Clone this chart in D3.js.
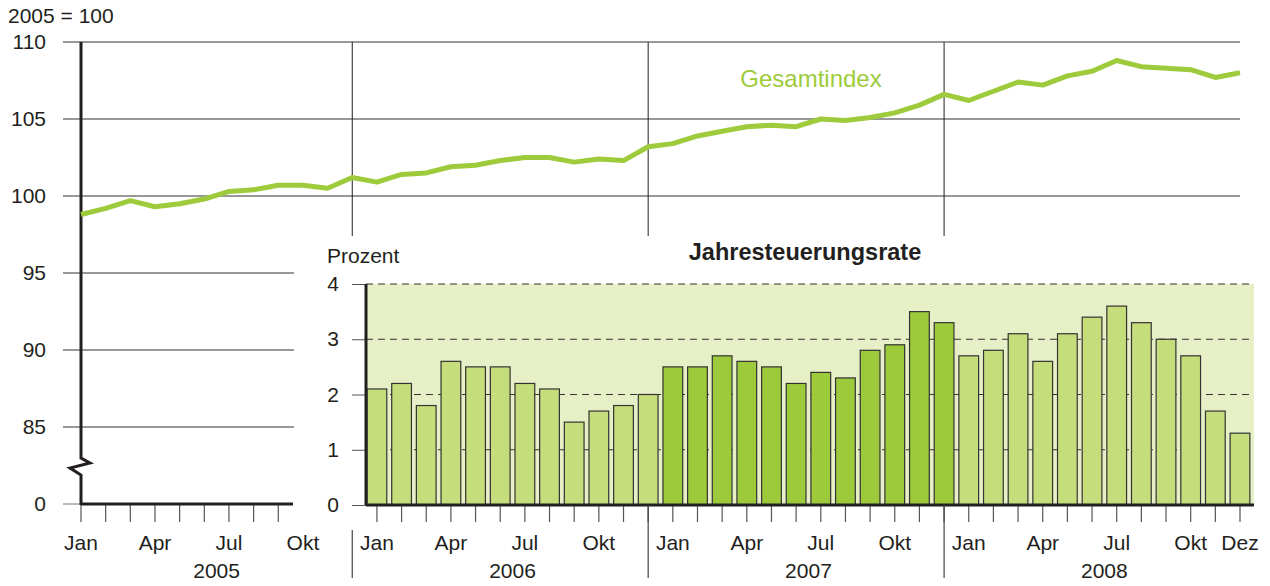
<!DOCTYPE html>
<html>
<head>
<meta charset="utf-8">
<script src="https://cdn.jsdelivr.net/npm/d3@7"></script>
<style>
  body { margin: 0; background: #fff; }
  svg { display: block; font-family: "Liberation Sans", Arial, sans-serif; }
</style>
</head>
<body>
<div id="chart-area"></div>
<script>
const years = ["2005", "2006", "2007", "2008"];
const monthNames = ["Jan", "Feb", "Mär", "Apr", "Mai", "Jun", "Jul", "Aug", "Sep", "Okt", "Nov", "Dez"];
const labelledMonths = ["Jan", "Apr", "Jul", "Okt"];
const indexTicks = [0, 85, 90, 95, 100, 105, 110];
const rateTicks = [0, 1, 2, 3, 4];

// Verbraucherpreisindex, 2005 = 100, Jan 2005 - Dez 2008
const gesamtindex = [
  98.8, 99.2, 99.7, 99.3, 99.5, 99.8, 100.3, 100.4, 100.7, 100.7, 100.5, 101.2,
  100.9, 101.4, 101.5, 101.9, 102.0, 102.3, 102.5, 102.5, 102.2, 102.4, 102.3, 103.2,
  103.4, 103.9, 104.2, 104.5, 104.6, 104.5, 105.0, 104.9, 105.1, 105.4, 105.9, 106.6,
  106.2, 106.8, 107.4, 107.2, 107.8, 108.1, 108.8, 108.4, 108.3, 108.2, 107.7, 108.0
];
// Jahresteuerungsrate in Prozent
const rate2006 = [2.1, 2.2, 1.8, 2.6, 2.5, 2.5, 2.2, 2.1, 1.5, 1.7, 1.8, 2.0];
const rate2007 = [2.5, 2.5, 2.7, 2.6, 2.5, 2.2, 2.4, 2.3, 2.8, 2.9, 3.5, 3.3];
const rate2008 = [2.7, 2.8, 3.1, 2.6, 3.1, 3.4, 3.6, 3.3, 3.0, 2.7, 1.7, 1.3];

const W = 1270, H = 586;
const ink = "#231f20";
const lineGreen = "#9dcb3b";
const lightBar = "#c6dd7c";
const darkBar = "#9dca3b";
const insetBg = "#e6efc6";
const fs = "21px";

const months = years.flatMap(y => monthNames.map(m => ({ year: y, month: m, key: y + "-" + m })));
const rates = [
  ...rate2006.map((v, i) => ({ key: "2006-" + monthNames[i], year: "2006", value: v })),
  ...rate2007.map((v, i) => ({ key: "2007-" + monthNames[i], year: "2007", value: v })),
  ...rate2008.map((v, i) => ({ key: "2008-" + monthNames[i], year: "2008", value: v }))
];

const svg = d3.select("#chart-area")
    .append("svg")
    .attr("width", W)
    .attr("height", H);

const x = d3.scalePoint()
    .domain(months.map(d => d.key))
    .range([81, 1240]);
const step = x.step();

// broken axis: 0 .. 85 squeezed
const y = d3.scaleLinear()
    .domain([0, 85, 110])
    .range([504, 427, 42]);

const yRate = d3.scaleLinear()
    .domain([0, 4])
    .range([505, 284]);

const gridLeft = 63, gridRight = x(months[months.length - 1].key);

// ---------- main chart ----------
svg.append("text")
    .attr("x", 8).attr("y", 23)
    .attr("font-size", fs).attr("fill", ink)
    .text("2005 = 100");

svg.append("g")
    .selectAll("line")
    .data(indexTicks.filter(t => t > 0))
    .enter().append("line")
    .attr("x1", gridLeft).attr("x2", gridRight)
    .attr("y1", d => y(d)).attr("y2", d => y(d))
    .attr("stroke", "#333").attr("stroke-width", 1);

svg.append("line")
    .attr("x1", gridLeft).attr("x2", x(months[0].key))
    .attr("y1", y(0)).attr("y2", y(0))
    .attr("stroke", "#777").attr("stroke-width", 1);

// year separators (at December)
const decKeys = years.slice(0, 3).map(yr => yr + "-Dez");
svg.append("g")
    .selectAll("line")
    .data(decKeys)
    .enter().append("line")
    .attr("x1", d => x(d)).attr("x2", d => x(d))
    .attr("y1", y(110)).attr("y2", 236)
    .attr("stroke", ink).attr("stroke-width", 1);

const yAxis = d3.axisLeft(y)
    .tickValues(indexTicks)
    .tickSize(0)
    .tickPadding(35);

svg.append("g")
    .attr("transform", `translate(${x(months[0].key)},0)`)
    .call(yAxis)
    .call(g => g.select(".domain").remove())
    .selectAll("text")
    .attr("font-size", fs)
    .attr("font-family", "Liberation Sans, Arial, sans-serif")
    .attr("fill", ink);

// 2005 x axis ticks + baseline
const x0 = x(months[0].key);
svg.append("g")
    .selectAll("line")
    .data(months.filter(d => d.year === "2005"))
    .enter().append("line")
    .attr("x1", d => x(d.key)).attr("x2", d => x(d.key))
    .attr("y1", y(0)).attr("y2", y(0) + 18)
    .attr("stroke", "#555").attr("stroke-width", 1.2);

svg.append("line")
    .attr("x1", x0).attr("x2", 293)
    .attr("y1", y(0)).attr("y2", y(0))
    .attr("stroke", ink).attr("stroke-width", 3);

// vertical axis with break
const b = y(85) + 31;
svg.append("path")
    .attr("d", `M${x0},${y(110)} V${b} L${x0 + 9},${b + 5} L${x0 - 11},${b + 10} L${x0},${b + 17} V${y(0) + 1}`)
    .attr("fill", "none")
    .attr("stroke", ink)
    .attr("stroke-width", 3);

const line = d3.line()
    .x((d, i) => x(months[i].key))
    .y(d => y(d));

svg.append("path")
    .datum(gesamtindex)
    .attr("d", line)
    .attr("fill", "none")
    .attr("stroke", lineGreen)
    .attr("stroke-width", 5)
    .attr("stroke-linejoin", "round");

svg.append("text")
    .attr("x", 811).attr("y", 87)
    .attr("text-anchor", "middle")
    .attr("font-size", "24px")
    .attr("fill", lineGreen)
    .text("Gesamtindex");

// ---------- inset: Jahresteuerungsrate ----------
const insetLeft = 366, insetRight = 1254;

svg.append("rect")
    .attr("x", 294).attr("y", 236)
    .attr("width", W - 294).attr("height", H - 236)
    .attr("fill", "#fff");

svg.append("rect")
    .attr("x", insetLeft).attr("y", yRate(4))
    .attr("width", insetRight - insetLeft)
    .attr("height", yRate(0) - yRate(4))
    .attr("fill", insetBg);

const rg = svg.append("g");

rg.selectAll(".grid")
    .data(rateTicks.filter(t => t > 0))
    .enter().append("line")
    .attr("x1", insetLeft).attr("x2", insetRight)
    .attr("y1", d => yRate(d)).attr("y2", d => yRate(d))
    .attr("stroke", "#333")
    .attr("stroke-dasharray", "7,5");

const rateAxis = d3.axisLeft(yRate)
    .tickValues(rateTicks)
    .tickFormat(d3.format("d"))
    .tickSize(14)
    .tickPadding(13);

rg.append("g")
    .attr("transform", `translate(${insetLeft},0)`)
    .call(rateAxis)
    .call(g => g.select(".domain").remove())
    .call(g => g.selectAll(".tick line").attr("stroke", "#555"))
    .selectAll("text")
    .attr("font-size", fs)
    .attr("font-family", "Liberation Sans, Arial, sans-serif")
    .attr("fill", ink);

const bw = step * 0.8;
rg.selectAll(".bar")
    .data(rates)
    .enter().append("rect")
    .attr("class", "bar")
    .attr("x", d => x(d.key) - bw / 2)
    .attr("y", d => yRate(d.value))
    .attr("width", bw)
    .attr("height", d => yRate(0) - yRate(d.value))
    .attr("fill", d => d.year === "2007" ? darkBar : lightBar)
    .attr("stroke", "#333")
    .attr("stroke-width", 1.2);

// ticks below inset baseline
rg.selectAll(".rtick")
    .data(rates)
    .enter().append("line")
    .attr("x1", d => x(d.key)).attr("x2", d => x(d.key))
    .attr("y1", yRate(0)).attr("y2", yRate(0) + 17)
    .attr("stroke", "#555").attr("stroke-width", 1.2);

rg.append("line")
    .attr("x1", insetLeft).attr("x2", insetRight)
    .attr("y1", yRate(0)).attr("y2", yRate(0))
    .attr("stroke", ink).attr("stroke-width", 3);

rg.append("line")
    .attr("x1", insetLeft).attr("x2", insetLeft)
    .attr("y1", yRate(4)).attr("y2", yRate(0))
    .attr("stroke", ink).attr("stroke-width", 3);

svg.append("text")
    .attr("x", 327).attr("y", 263)
    .attr("font-size", fs).attr("fill", ink)
    .text("Prozent");

svg.append("text")
    .attr("x", 805).attr("y", 260)
    .attr("text-anchor", "middle")
    .attr("font-size", "23.5px")
    .attr("font-weight", "bold")
    .attr("fill", ink)
    .text("Jahresteuerungsrate");

// ---------- bottom labels ----------
svg.append("g")
    .selectAll("line")
    .data(decKeys)
    .enter().append("line")
    .attr("x1", d => x(d)).attr("x2", d => x(d))
    .attr("y1", (d, i) => i === 0 ? 530 : yRate(0))
    .attr("y2", 578)
    .attr("stroke", "#444").attr("stroke-width", 1.2);

const labelled = months.filter(d => labelledMonths.includes(d.month) || d.key === "2008-Dez");
svg.append("g")
    .selectAll("text")
    .data(labelled)
    .enter().append("text")
    .attr("x", d => x(d.key))
    .attr("y", 550)
    .attr("text-anchor", "middle")
    .attr("font-size", fs)
    .attr("fill", ink)
    .text(d => d.month);

svg.append("g")
    .selectAll("text")
    .data(years)
    .enter().append("text")
    .attr("x", d => (x(d + "-Jan") + x(d + "-Dez")) / 2)
    .attr("y", 578)
    .attr("text-anchor", "middle")
    .attr("font-size", fs)
    .attr("fill", ink)
    .text(d => d);
</script>
</body>
</html>
